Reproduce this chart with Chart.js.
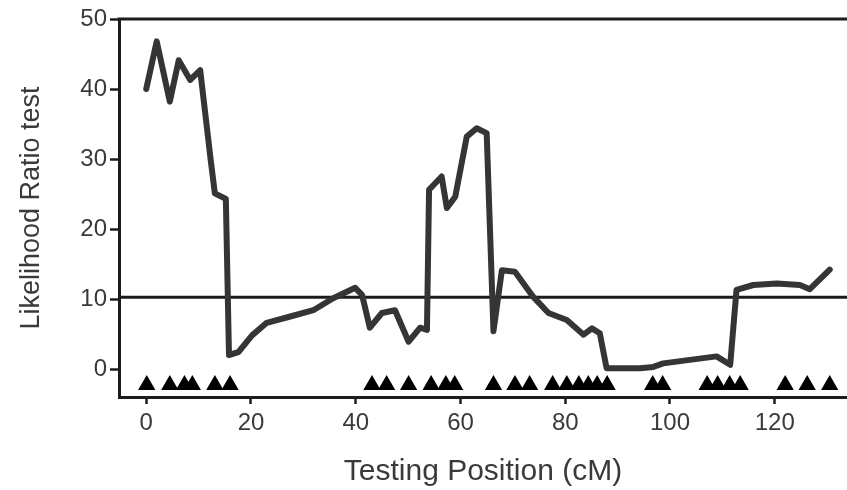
<!DOCTYPE html>
<html lang="en">
  <head>
    <meta charset="UTF-8" />
    <title>Likelihood Ratio test</title>
    <style>
      html, body { margin: 0; padding: 0; background: #fff; }
      #wrap { width: 847px; height: 490px; }
    </style>
  </head>
  <body>
    <div id="wrap"><canvas id="lrChart" width="847" height="490"></canvas></div>

    <script src="https://cdn.jsdelivr.net/npm/chart.js"></script>
    <script>
      // testing positions (cM) and LR values
      const positions = [0, 2.0, 4.5, 6.2, 8.4, 10.3, 12.3, 13.1, 15.2, 15.8, 17.6, 20.2, 23, 27.5, 31.9, 35.7, 39.9, 41.2, 42.7, 45, 47.5, 50.1, 52.3, 53.6, 54.0, 56.4, 57.4, 59.0, 61.2, 63.1, 65.0, 66.3, 67.9, 70.4, 73.9, 76.8, 80.3, 83.5, 85.1, 86.6, 87.9, 94.3, 96.8, 98.7, 108.9, 111.5, 112.7, 115.9, 120.4, 124.8, 126.7, 130.5];
      const lrValues = [40, 46.8, 38.2, 44.1, 41.3, 42.7, 29.9, 25.1, 24.3, 2.0, 2.4, 4.8, 6.6, 7.5, 8.4, 10.1, 11.6, 10.6, 5.9, 8.0, 8.4, 3.9, 5.9, 5.6, 25.6, 27.5, 23.0, 24.6, 33.2, 34.4, 33.7, 5.4, 14.1, 13.9, 10.3, 8.0, 7.0, 4.9, 5.8, 5.1, 0.1, 0.1, 0.3, 0.8, 1.8, 0.6, 11.3, 12.0, 12.2, 12.0, 11.4, 14.2];

      // marker positions (triangles along the bottom)
      const markers = [0.1, 4.5, 7.3, 8.8, 13.1, 16.0, 43.1, 45.9, 50.1, 54.4, 57.2, 58.9, 66.3, 70.4, 73.2, 77.6, 80.3, 82.6, 84.4, 86.1, 88.0, 96.7, 98.6, 107.1, 109.1, 111.4, 113.4, 122.0, 126.2, 130.5];
      const markerLevel = -2.3;

      const threshold = 10.25;
      const xTicks = [0, 20, 40, 60, 80, 100, 120];
      const yTicks = [0, 10, 20, 30, 40, 50];
      const xRange = [-5.2, 133.8];
      const yRange = [-4, 50];

      const textColor = "#3a3a3a";
      const lineColor = "#1c1c1c";
      const fontFamily = "Liberation Sans, Arial, sans-serif";

      // draws the top frame line
      const topLine = {
        id: "topLine",
        afterDraw(chart) {
          const { ctx, chartArea } = chart;
          ctx.save();
          ctx.strokeStyle = lineColor;
          ctx.lineWidth = 3;
          ctx.beginPath();
          ctx.moveTo(chartArea.left - 1.5, chartArea.top);
          ctx.lineTo(chartArea.right, chartArea.top);
          ctx.stroke();
          ctx.restore();
        },
      };

      function renderChart() {
        const curve = positions.map((x, i) => ({ x: x, y: lrValues[i] }));
        const marks = markers.map((x) => ({ x: x, y: markerLevel }));
        const thresholdLine = [
          { x: xRange[0], y: threshold },
          { x: xRange[1], y: threshold },
        ];

        const ctx = document.getElementById("lrChart").getContext("2d");
        new Chart(ctx, {
          type: "line",
          data: {
            datasets: [
              {
                label: "LR",
                data: curve,
                borderColor: "#353535",
                borderWidth: 6,
                borderJoinStyle: "round",
                borderCapStyle: "round",
                pointRadius: 0,
                tension: 0,
                order: 1,
              },
              {
                label: "threshold",
                data: thresholdLine,
                borderColor: lineColor,
                borderWidth: 3,
                pointRadius: 0,
                order: 2,
              },
              {
                label: "markers",
                type: "scatter",
                data: marks,
                pointStyle: "triangle",
                pointRadius: 10,
                backgroundColor: "#000",
                borderColor: "#000",
                borderWidth: 0,
                order: 3,
              },
            ],
          },
          options: {
            responsive: false,
            animation: false,
            layout: { autoPadding: false, padding: { top: 19, right: 0, left: 0, bottom: 0 } },
            plugins: {
              legend: { display: false },
              tooltip: { enabled: false },
            },
            scales: {
              x: {
                type: "linear",
                min: xRange[0],
                max: xRange[1],
                afterBuildTicks: (axis) => {
                  axis.ticks = xTicks.map((v) => ({ value: v }));
                },
                afterFit: (axis) => {
                  axis.height = 93;
                },
                grid: {
                  drawOnChartArea: false,
                  drawTicks: true,
                  tickLength: 7,
                  tickWidth: 2.5,
                  tickColor: lineColor,
                },
                border: { display: true, color: lineColor, width: 3 },
                ticks: {
                  color: textColor,
                  padding: 5,
                  maxRotation: 0,
                  font: { family: fontFamily, size: 24 },
                },
                title: {
                  display: true,
                  text: "Testing Position (cM)",
                  color: textColor,
                  padding: { top: 0, bottom: 0 },
                  font: { family: fontFamily, size: 30 },
                },
              },
              y: {
                min: yRange[0],
                max: yRange[1],
                afterBuildTicks: (axis) => {
                  axis.ticks = yTicks.map((v) => ({ value: v }));
                },
                afterFit: (axis) => {
                  axis.width = 119;
                },
                grid: {
                  drawOnChartArea: false,
                  drawTicks: true,
                  tickLength: 9,
                  tickWidth: 2.5,
                  tickColor: lineColor,
                },
                border: { display: true, color: lineColor, width: 3 },
                ticks: {
                  color: textColor,
                  padding: 3,
                  font: { family: fontFamily, size: 24 },
                },
                title: {
                  display: true,
                  text: "Likelihood Ratio test",
                  color: textColor,
                  padding: { top: 15, bottom: 0 },
                  font: { family: fontFamily, size: 27 },
                },
              },
            },
          },
          plugins: [topLine],
        });
      }

      window.onload = function () {
        renderChart();
      };
    </script>
  </body>
</html>
